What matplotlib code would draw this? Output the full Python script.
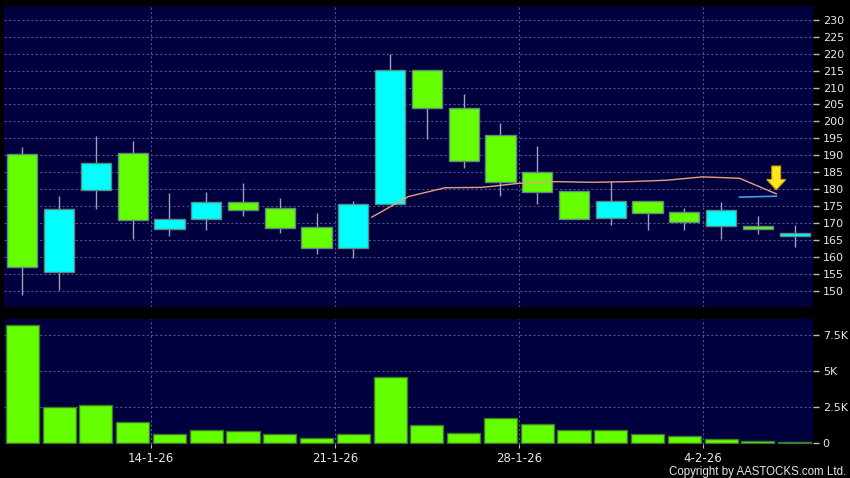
import matplotlib.pyplot as plt
import numpy as np

# daily candles, 8-1-26 .. 6-2-26
opens  = [190.3, 155.6, 179.7, 190.6, 168.1, 171.2, 176.1, 174.3, 168.9, 162.5, 175.6,
          215.1, 203.9, 195.9, 185.0, 179.5, 171.4, 176.4, 173.2, 169.0, 169.0, 166.1]
highs  = [192.3, 178.0, 195.7, 194.2, 178.9, 179.2, 181.8, 177.4, 173.0, 176.5, 220.0,
          215.1, 208.1, 199.6, 192.6, 179.5, 182.4, 176.4, 174.4, 176.2, 172.1, 169.3]
lows   = [148.8, 150.2, 174.2, 165.2, 166.0, 168.0, 171.9, 167.1, 160.9, 159.5, 175.6,
          194.9, 186.1, 178.1, 175.7, 171.1, 169.5, 168.0, 168.0, 165.1, 166.6, 163.0]
closes = [156.9, 174.0, 187.6, 170.8, 171.1, 176.1, 173.7, 168.4, 162.5, 175.5, 215.1,
          203.9, 188.2, 182.0, 179.1, 171.1, 176.4, 172.9, 170.2, 173.7, 168.3, 166.9]
volumes = [8220, 2520, 2660, 1500, 670, 930, 830, 625, 350, 670, 4580,
           1270, 690, 1760, 1370, 900, 900, 670, 490, 280, 160, 70]

# moving averages as drawn (10-day from 10th bar, 20-day from 20th bar)
ma10 = [171.7, 177.8, 180.4, 180.5, 181.7, 182.2, 182.0, 182.2, 182.6, 183.6, 183.2, 178.6]
ma20 = [177.6, 177.9]

date_labels = ['14-1-26', '21-1-26', '28-1-26', '4-2-26']
date_pos = [4, 9, 14, 19]   # bar index of each labelled date

price_ticks = list(range(150, 231, 5))
vol_ticks = [0, 2500, 5000, 7500]
vol_tick_labels = ['0', '2.5K', '5K', '7.5K']

BG = '#00003e'
GRID = '#50508a'
TXT = '#e6e6e6'
UP = '#00ffff'
DOWN = '#66ff00'

x = np.arange(len(closes))

fig = plt.figure(figsize=(8.5, 4.78), dpi=100, facecolor='black')
ax = fig.add_axes([4/850, 1-306.5/478, 809/850, 300.5/478])
axv = fig.add_axes([4/850, 1-444/478, 809/850, 124.7/478])

for a in (ax, axv):
    a.set_facecolor(BG)
    for s in a.spines.values():
        s.set_visible(False)
    a.yaxis.tick_right()
    a.tick_params(axis='y', colors='#bbbbbb', labelcolor=TXT, length=4, width=1,
                  pad=3, labelsize=8)
    a.set_xlim(-0.5, len(closes) - 0.5)
    for p in date_pos:
        a.axvline(p - 0.5, color=GRID, lw=0.8, ls=(0, (2, 2)), zorder=0)

# price panel
ax.set_ylim(145.3, 234.1)
ax.set_yticks(price_ticks)
for t in price_ticks:
    ax.axhline(t, color=GRID, lw=0.8, ls=(0, (2, 2)), zorder=0)
ax.set_xticks([])

cols = [UP if c >= o else DOWN for o, c in zip(opens, closes)]
ax.vlines(x, lows, highs, color='#a0a0b4', lw=1, zorder=2)
bottoms = [min(o, c) for o, c in zip(opens, closes)]
heights = [max(abs(c - o), 0.3) for o, c in zip(opens, closes)]
ax.bar(x, heights, bottom=bottoms, width=0.82, color=cols,
       edgecolor='#5f8a80', linewidth=1, zorder=3)

ma10_x = x[9:9 + len(ma10)] + 0.5
ma20_x = x[19:19 + len(ma20)] + 0.5
ax.plot(ma10_x, ma10, color='#e8a07a', lw=1, zorder=4)
ax.plot(ma20_x, ma20, color='#3aa0e8', lw=1.2, zorder=4)

# sell signal arrow above last MA point
ax.arrow(ma10_x[-1], ma10[-1] + 8.2, 0, -7.0, width=0.24, head_width=0.52,
         head_length=3.0, length_includes_head=True, fc='#ffe81a',
         ec='#d8a000', lw=0.8, zorder=5)

# volume panel
axv.set_ylim(-50, 8610)
axv.set_yticks(vol_ticks)
axv.set_yticklabels(vol_tick_labels)
for t in vol_ticks[1:]:
    axv.axhline(t, color=GRID, lw=0.8, ls=(0, (2, 2)), zorder=0)
axv.bar(x, volumes, width=0.9, color=DOWN, edgecolor='#3c7a28', linewidth=1, zorder=3)
axv.set_xticks([p - 0.5 for p in date_pos])
axv.set_xticklabels(date_labels)
axv.tick_params(axis='x', colors='#bbbbbb', labelcolor=TXT, length=3, pad=3, labelsize=8.5)

fig.text(846/850, 1-471.5/478, 'Copyright by AASTOCKS.com Ltd.', color=TXT,
         fontsize=8.3, family='Liberation Sans', ha='right', va='center')

fig.savefig('out.png', dpi=100, facecolor='black')
